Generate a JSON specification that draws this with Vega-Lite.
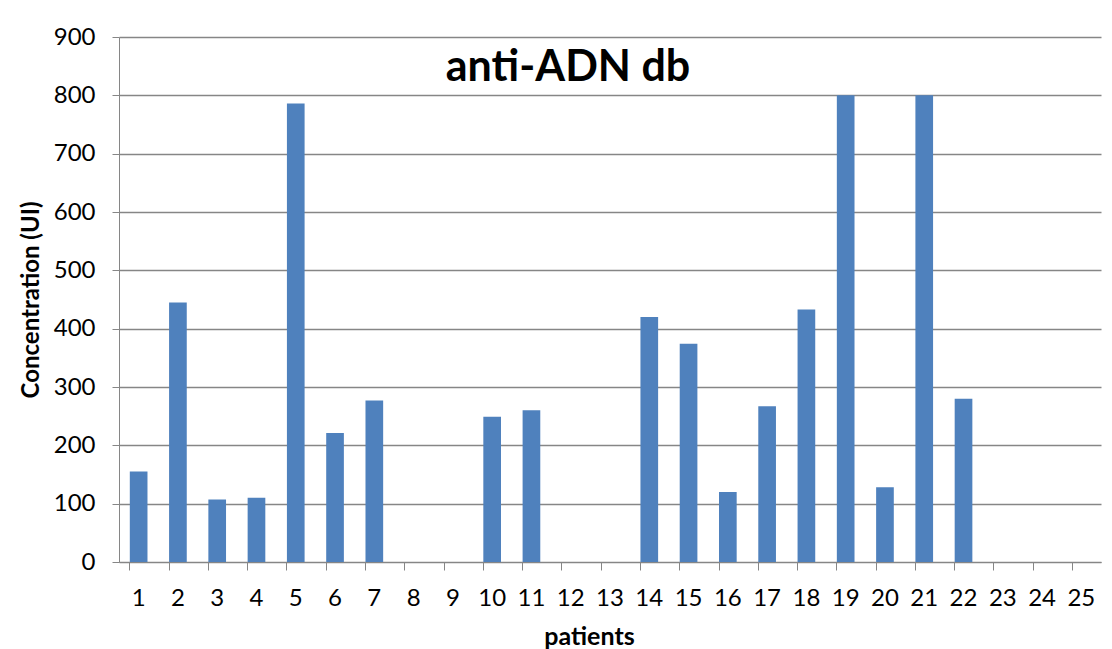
{
  "$schema": "https://vega.github.io/schema/vega-lite/v6.json",
  "width": 982,
  "height": 525,
  "autosize": {"type": "none"},
  "padding": {"left": 119, "top": 37, "right": 11, "bottom": 87},
  "background": "white",
  "title": {
    "text": "anti-ADN db",
    "font": "Lato",
    "fontSize": 43,
    "fontWeight": "bold",
    "color": "black",
    "anchor": "middle",
    "frame": "group",
    "baseline": "alphabetic",
    "offset": 0,
    "dy": 99,
    "dx": -42
  },
  "data": {
    "values": [
      {"patient": 1, "value": 155},
      {"patient": 2, "value": 445},
      {"patient": 3, "value": 107},
      {"patient": 4, "value": 110},
      {"patient": 5, "value": 786},
      {"patient": 6, "value": 221},
      {"patient": 7, "value": 277},
      {"patient": 8, "value": 0},
      {"patient": 9, "value": 0},
      {"patient": 10, "value": 249},
      {"patient": 11, "value": 260},
      {"patient": 12, "value": 0},
      {"patient": 13, "value": 0},
      {"patient": 14, "value": 420},
      {"patient": 15, "value": 374},
      {"patient": 16, "value": 120},
      {"patient": 17, "value": 267},
      {"patient": 18, "value": 433},
      {"patient": 19, "value": 800},
      {"patient": 20, "value": 128},
      {"patient": 21, "value": 800},
      {"patient": 22, "value": 280},
      {"patient": 23, "value": 0},
      {"patient": 24, "value": 0},
      {"patient": 25, "value": 0}
    ]
  },
  "mark": {"type": "bar", "color": "#4F81BD"},
  "encoding": {
    "x": {
      "field": "patient",
      "type": "ordinal",
      "scale": {"paddingInner": 0.55, "paddingOuter": 0.275},
      "axis": {
        "title": "patients",
        "bandPosition": 0,
        "labelAngle": 0,
        "tickSize": 8,
        "labelPadding": 16,
        "domainColor": "#868686",
        "tickColor": "#868686",
        "labelFont": "Lato",
        "labelFontSize": 24,
        "labelColor": "black",
        "titleFont": "Lato",
        "titleFontSize": 25,
        "titleFontWeight": "bold",
        "titleColor": "black",
        "titlePadding": 14,
        "titleX": 470,
        "grid": false
      }
    },
    "y": {
      "field": "value",
      "type": "quantitative",
      "scale": {"domain": [0, 900], "nice": false},
      "axis": {
        "title": "Concentration (UI)",
        "values": [0, 100, 200, 300, 400, 500, 600, 700, 800, 900],
        "tickSize": 7,
        "labelPadding": 17,
        "domainColor": "#868686",
        "tickColor": "#868686",
        "gridColor": "#868686",
        "gridWidth": 1.3,
        "gridOpacity": 1,
        "labelFont": "Lato",
        "labelFontSize": 24,
        "labelColor": "black",
        "titleFont": "Lato",
        "titleFontSize": 24,
        "titleFontWeight": "bold",
        "titleColor": "black",
        "titlePadding": 10
      }
    }
  },
  "config": {"view": {"stroke": null}}
}
